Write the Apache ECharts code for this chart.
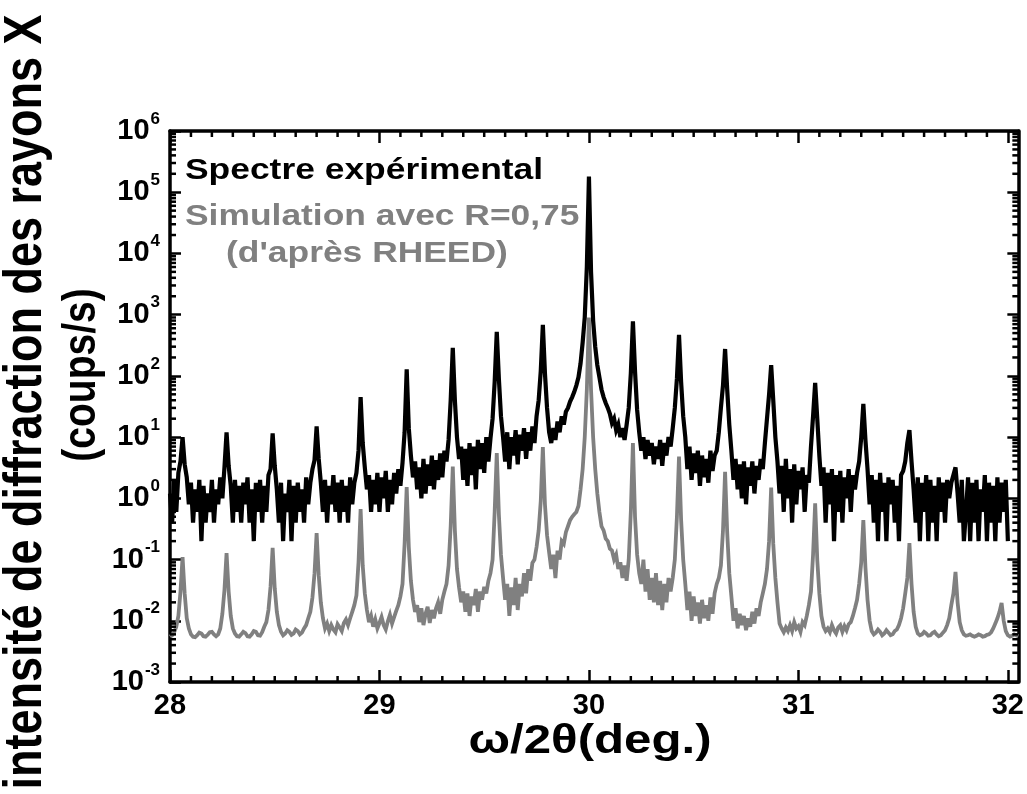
<!DOCTYPE html>
<html>
<head>
<meta charset="utf-8">
<script src="https://cdn.jsdelivr.net/npm/echarts@6/dist/echarts.min.js"></script>
<style>
html,body{margin:0;padding:0;background:#fff;}
#chart{width:1027px;height:794px;}
</style>
</head>
<body>
<div id="chart"></div>
<script>
// ---- scan grid (omega/2theta, deg.) ----
const scanStart = 28.00;
const scanStep = 0.01;

// ---- experimental spectrum (counts/s), one row per 0.1 deg from 28.0 ----
const expCounts = [
  1.2, 0.4, 2.0, 0.6, 2.6, 4.0, 10, 3.6, 2.2, 0.8,
  1.8, 0.4, 1.4, 0.6, 2.0, 0.2, 1.6, 0.4, 1.2, 0.6,
  2.0, 0.4, 1.4, 0.8, 2.2, 1.0, 3.2, 12, 3.4, 1.6,
  0.4, 2.0, 0.6, 1.6, 0.4, 1.8, 0.8, 2.2, 0.4, 1.4,
  0.2, 1.8, 0.6, 2.0, 0.4, 1.6, 0.6, 2.4, 3.0, 11.5,
  3.4, 1.4, 0.4, 1.8, 0.2, 1.2, 0.6, 2.0, 0.2, 1.6,
  0.4, 1.8, 0.6, 1.4, 0.4, 2.2, 0.8, 1.8, 3.0, 4.2,
  15, 4.4, 1.8, 0.6, 2.0, 0.4, 1.6, 0.8, 2.4, 0.6,
  1.8, 0.4, 2.0, 0.6, 1.6, 0.4, 2.2, 0.8, 1.8, 2.6,
  6, 45, 8, 3.2, 1.4, 2.4, 0.6, 2.0, 0.8, 2.6,
  0.6, 2.2, 1.0, 2.8, 0.6, 2.0, 0.8, 2.6, 1.2, 3.0,
  1.6, 3.8, 12, 128, 14, 5.0, 2.2, 4.0, 1.4, 3.2,
  1.0, 4.4, 1.2, 3.6, 1.6, 5.0, 1.4, 4.2, 2.0, 5.4,
  2.2, 6, 4, 9, 40, 287, 40, 10, 4.4, 7,
  2.0, 6.4, 1.6, 8.0, 2.4, 7.0, 1.4, 9.0, 3.0, 8.0,
  2.6, 10, 4.0, 9.6, 20, 80, 525, 90, 22, 10,
  4, 12, 3.0, 10, 5, 13, 3.6, 11, 6, 14,
  4.4, 12, 6, 15, 8, 22, 40, 120, 680, 110,
  30, 12, 8, 14, 9, 18, 12, 22, 16, 26,
  30, 38, 45, 55, 70, 95, 160, 350, 900, 6000,
  180000, 5000, 800, 300, 150, 95, 60, 45, 36, 30,
  24, 17, 20, 13, 16, 10, 14, 9, 16, 30,
  110, 780, 120, 28, 12, 6, 10, 4.4, 9, 5,
  8, 3.6, 7, 4.4, 9, 3.4, 8, 5, 10, 7,
  14, 30, 90, 470, 80, 22, 10, 3.0, 7, 2.0,
  5.4, 2.6, 6, 1.6, 5, 2.2, 4.4, 1.8, 6, 2.8,
  5, 6, 12, 30, 70, 275, 60, 16, 6, 2.0,
  4.4, 1.4, 3.6, 1.0, 4.0, 0.8, 3.2, 1.6, 4.0, 1.2,
  3.4, 2.0, 4.4, 3.0, 8, 20, 50, 150, 40, 10,
  4, 1.2, 3.4, 0.6, 4.4, 1.0, 3.0, 0.4, 3.6, 0.8,
  2.8, 1.4, 3.2, 0.6, 2.4, 1.8, 7, 22, 77, 20,
  5, 1.6, 3.2, 0.4, 2.6, 0.8, 3.0, 0.2, 2.4, 0.6,
  2.8, 0.4, 2.2, 1.0, 3.0, 0.6, 2.4, 1.4, 2.6, 4,
  10, 35, 9, 3.0, 0.8, 2.4, 0.4, 2.0, 0.2, 2.6,
  0.6, 1.8, 0.2, 2.2, 0.8, 2.0, 0.4, 1.6, 0.2, 2.4,
  2.8, 4, 8, 13, 4, 1.4, 0.4, 2.2, 0.2, 1.8,
  0.6, 2.4, 0.2, 2.0, 0.4, 1.6, 0.2, 2.2, 0.6, 1.8,
  0.4, 2.0, 1.0, 1.8, 2.4, 3.2, 1.2, 0.4, 2.0, 0.2,
  0.6, 2.2, 0.2, 1.8, 0.4, 2.0, 0.2, 1.4, 0.6, 2.4,
  0.2, 1.8, 0.4, 1.6, 0.2, 2.2, 0.4, 1.8, 0.6, 2.0,
  0.2
];

// ---- simulation with R = 0,75 (counts/s), one row per 0.1 deg from 28.0 ----
const simCounts = [
  0.0055, 0.0058, 0.0065, 0.008, 0.012, 0.03, 0.11, 0.028, 0.011, 0.0075,
  0.006, 0.0055, 0.0054, 0.0058, 0.0064, 0.0062, 0.0056, 0.0055, 0.0059, 0.0065,
  0.0066, 0.006, 0.0056, 0.006, 0.0075, 0.013, 0.032, 0.128, 0.03, 0.012,
  0.0075, 0.0062, 0.0056, 0.0055, 0.006, 0.0066, 0.0063, 0.0056, 0.0055, 0.006,
  0.0068, 0.0066, 0.0058, 0.0057, 0.0065, 0.008, 0.0095, 0.015, 0.036, 0.155,
  0.034, 0.014, 0.0085, 0.0066, 0.0058, 0.0062, 0.007, 0.0066, 0.0059, 0.0062,
  0.0072, 0.0068, 0.006, 0.0064, 0.0075, 0.0085, 0.011, 0.014, 0.024, 0.06,
  0.27, 0.055, 0.02, 0.011, 0.0075, 0.009, 0.0068, 0.0085, 0.0072, 0.0065,
  0.0088, 0.0078, 0.0068, 0.0092, 0.0105, 0.0085, 0.011, 0.014, 0.018, 0.026,
  0.09, 0.67, 0.08, 0.028, 0.015, 0.0095, 0.012, 0.008, 0.0105, 0.0075,
  0.0092, 0.0115, 0.0085, 0.0072, 0.0098, 0.0125, 0.009, 0.0115, 0.0145, 0.018,
  0.025, 0.04, 0.18, 1.53, 0.16, 0.045, 0.022, 0.014, 0.018, 0.0095,
  0.016, 0.0085, 0.013, 0.017, 0.0092, 0.015, 0.011, 0.016, 0.02, 0.013,
  0.022, 0.03, 0.04, 0.08, 0.35, 3.3, 0.3, 0.07, 0.035, 0.02,
  0.03, 0.014, 0.028, 0.012, 0.025, 0.018, 0.033, 0.014, 0.03, 0.022,
  0.036, 0.028, 0.045, 0.06, 0.1, 0.6, 5.5, 0.55, 0.12, 0.05,
  0.022, 0.04, 0.012, 0.035, 0.018, 0.05, 0.015, 0.04, 0.025, 0.06,
  0.028, 0.07, 0.045, 0.088, 0.1, 0.16, 0.3, 0.9, 6.9, 0.8,
  0.25, 0.13, 0.07, 0.12, 0.05, 0.14, 0.1, 0.2, 0.18, 0.28,
  0.35, 0.44, 0.5, 0.55, 0.6, 0.75, 1.4, 3, 10, 60,
  900, 60, 10, 3, 1.2, 0.6, 0.35, 0.3, 0.22, 0.2,
  0.15, 0.14, 0.1, 0.12, 0.07, 0.09, 0.05, 0.08, 0.045, 0.1,
  0.6, 8, 0.5, 0.12, 0.06, 0.04, 0.1, 0.03, 0.07, 0.022,
  0.05, 0.02, 0.06, 0.018, 0.045, 0.015, 0.04, 0.02, 0.05, 0.03,
  0.05, 0.1, 0.5, 4.8, 0.45, 0.1, 0.04, 0.015, 0.03, 0.01,
  0.025, 0.012, 0.02, 0.009, 0.022, 0.011, 0.018, 0.01, 0.024, 0.013,
  0.028, 0.04, 0.05, 0.08, 0.3, 2.7, 0.28, 0.06, 0.025, 0.01,
  0.016, 0.0075, 0.013, 0.0085, 0.012, 0.007, 0.011, 0.008, 0.014, 0.009,
  0.016, 0.012, 0.02, 0.028, 0.04, 0.07, 0.2, 1.5, 0.18, 0.05,
  0.02, 0.009, 0.0075, 0.0065, 0.0078, 0.0068, 0.0085, 0.0068, 0.0095, 0.0075,
  0.0082, 0.0066, 0.0095, 0.0085, 0.012, 0.018, 0.03, 0.12, 0.83, 0.1,
  0.028, 0.012, 0.008, 0.0068, 0.0075, 0.0065, 0.0085, 0.007, 0.0062, 0.0078,
  0.0085, 0.0066, 0.0082, 0.007, 0.0088, 0.0095, 0.012, 0.016, 0.022, 0.04,
  0.09, 0.44, 0.075, 0.022, 0.01, 0.0068, 0.006, 0.0064, 0.0072, 0.0066,
  0.0058, 0.0062, 0.007, 0.0064, 0.0058, 0.006, 0.0068, 0.0072, 0.0085, 0.011,
  0.016, 0.028, 0.05, 0.185, 0.04, 0.014, 0.008, 0.0062, 0.0058, 0.006,
  0.0066, 0.0062, 0.0057, 0.0058, 0.0063, 0.0066, 0.006, 0.0056, 0.0058, 0.0064,
  0.007, 0.0085, 0.011, 0.018, 0.028, 0.063, 0.02, 0.0095, 0.007, 0.006,
  0.0057, 0.0058, 0.006, 0.0057, 0.0055, 0.0057, 0.006, 0.0058, 0.0055, 0.0056,
  0.0059, 0.006, 0.0065, 0.0075, 0.009, 0.011, 0.014, 0.0195, 0.01, 0.0068,
  0.0058, 0.0055, 0.0057, 0.006, 0.0058, 0.0056
];

// ---- axes ----
const xMin = 28, xMax = 32.05;
const xMajorTicks = [28, 29, 30, 31, 32];
const xMinorSteps = [1, 2, 3, 4, 5, 6, 7, 8, 9];          // tenths of a degree
const yMin = 1e-3, yMax = 1e6;
const yDecades = [-3, -2, -1, 0, 1, 2, 3, 4, 5];
const yMinorMultipliers = [2, 3, 4, 5, 6, 7, 8, 9];

const legendTexts = ['Spectre expérimental', 'Simulation avec R=0,75', "(d'après RHEED)"];
const xTitle = 'ω/2θ(deg.)';
const yTitle1 = 'intensité de diffraction des rayons X';
const yTitle2 = '(coups/s)';

const FONT = '"Liberation Sans", Arial, Helvetica, sans-serif';
const GRAY = '#808080';

const round2 = v => Math.round(v * 100) / 100;
const expData = expCounts.map((v, i) => [round2(scanStart + i * scanStep), v]);
const simData = simCounts.map((v, i) => [round2(scanStart + i * scanStep), v]);

const xMinorTicks = [];
xMajorTicks.slice(0, -1).forEach(n => xMinorSteps.forEach(k => xMinorTicks.push(round2(n + k / 10))));
const yMinorTicks = [];
yDecades.forEach(e => yMinorMultipliers.forEach(m => yMinorTicks.push(m * Math.pow(10, e))));

const chart = echarts.init(document.getElementById('chart'), null, {renderer: 'canvas'});

const axisLineStyle = {color: '#000', width: 3.5};
const tickStyle = {color: '#000', width: 2.5};

function renderXMinor(params, api) {
  const cs = params.coordSys;
  const px = api.coord([api.value(0), yMin])[0];
  const bottom = cs.y + cs.height, top = cs.y;
  return {type: 'group', children: [
    {type: 'line', shape: {x1: px, y1: bottom, x2: px, y2: bottom - 6}, style: {stroke: '#000', lineWidth: 2.5}},
    {type: 'line', shape: {x1: px, y1: top, x2: px, y2: top + 6}, style: {stroke: '#000', lineWidth: 2.5}}
  ]};
}
function renderYMinor(params, api) {
  const cs = params.coordSys;
  const py = api.coord([xMin, api.value(1)])[1];
  const left = cs.x, right = cs.x + cs.width;
  return {type: 'group', children: [
    {type: 'line', shape: {x1: left, y1: py, x2: left + 6, y2: py}, style: {stroke: '#000', lineWidth: 2.5}},
    {type: 'line', shape: {x1: right, y1: py, x2: right - 6, y2: py}, style: {stroke: '#000', lineWidth: 2.5}}
  ]};
}

const option = {
  animation: false,
  backgroundColor: '#fff',
  grid: {left: 170, right: 7, top: 131, bottom: 112, containLabel: false},
  xAxis: [
    {
      type: 'value', position: 'bottom', min: xMin, max: xMax, interval: 1,
      axisLine: {show: true, lineStyle: axisLineStyle},
      axisTick: {show: true, inside: true, length: 12, lineStyle: tickStyle, customValues: xMajorTicks},
      axisLabel: {
        show: true, margin: 9, color: '#000', fontFamily: FONT, fontWeight: 'bold', fontSize: 29,
        customValues: xMajorTicks,
        formatter: v => (Math.abs(v - Math.round(v)) < 1e-6 ? String(Math.round(v)) : '')
      },
      splitLine: {show: false}
    },
    {
      type: 'value', position: 'top', min: xMin, max: xMax, interval: 1,
      axisLine: {show: true, lineStyle: axisLineStyle},
      axisTick: {show: true, inside: true, length: 12, lineStyle: tickStyle, customValues: xMajorTicks},
      axisLabel: {show: false},
      splitLine: {show: false}
    }
  ],
  yAxis: [
    {
      type: 'log', logBase: 10, position: 'left', min: yMin, max: yMax, interval: 1,
      axisLine: {show: true, lineStyle: axisLineStyle},
      axisTick: {show: true, inside: true, length: 11, lineStyle: tickStyle},
      axisLabel: {
        show: true, margin: 10, color: '#000',
        formatter: v => '{b|10}{s|' + Math.round(Math.log10(v)) + '}',
        rich: {
          b: {fontFamily: FONT, fontWeight: 'bold', fontSize: 29, color: '#000'},
          s: {fontFamily: FONT, fontWeight: 'bold', fontSize: 17, color: '#000', padding: [0, 0, 24, 1]}
        }
      },
      splitLine: {show: false}
    },
    {
      type: 'log', logBase: 10, position: 'right', min: yMin, max: yMax, interval: 1,
      axisLine: {show: true, lineStyle: axisLineStyle},
      axisTick: {show: true, inside: true, length: 11, lineStyle: tickStyle},
      axisLabel: {show: false},
      splitLine: {show: false}
    }
  ],
  series: [
    {
      name: legendTexts[0], type: 'line', xAxisIndex: 0, yAxisIndex: 0,
      data: expData, showSymbol: false, symbol: 'none', sampling: null,
      lineStyle: {color: '#000', width: 4.2, join: 'miter', miterLimit: 4}, itemStyle: {color: '#000'}, z: 2
    },
    {
      name: legendTexts[1], type: 'line', xAxisIndex: 0, yAxisIndex: 0,
      data: simData, showSymbol: false, symbol: 'none', sampling: null,
      lineStyle: {color: GRAY, width: 3.8, join: 'miter', miterLimit: 4}, itemStyle: {color: GRAY}, z: 3
    },
    {
      type: 'custom', xAxisIndex: 0, yAxisIndex: 0, silent: true, z: 5,
      data: xMinorTicks.map(v => [v, yMin]), renderItem: renderXMinor, clip: false
    },
    {
      type: 'custom', xAxisIndex: 0, yAxisIndex: 0, silent: true, z: 5,
      data: yMinorTicks.map(v => [xMin, v]), renderItem: renderYMinor, clip: false
    }
  ],
  graphic: [
    {type: 'text', x: 185, y: 171, scaleX: 1.18, z: 10,
     style: {text: legendTexts[0], font: 'bold 30px ' + FONT, fill: '#000', textAlign: 'left', textVerticalAlign: 'middle', align: 'left', verticalAlign: 'middle'}},
    {type: 'text', x: 185, y: 217, scaleX: 1.18, z: 10,
     style: {text: legendTexts[1], font: 'bold 30px ' + FONT, fill: GRAY, textAlign: 'left', textVerticalAlign: 'middle', align: 'left', verticalAlign: 'middle'}},
    {type: 'text', x: 226, y: 254, scaleX: 1.18, z: 10,
     style: {text: legendTexts[2], font: 'bold 30px ' + FONT, fill: GRAY, textAlign: 'left', textVerticalAlign: 'middle', align: 'left', verticalAlign: 'middle'}},
    {type: 'text', x: 590, y: 742, scaleX: 1.2, z: 10,
     style: {text: xTitle, font: 'bold 41px ' + FONT, fill: '#000', textAlign: 'center', textVerticalAlign: 'middle', align: 'center', verticalAlign: 'middle'}},
    {type: 'text', x: 26, y: 402, rotation: Math.PI / 2, scaleY: 1.2, z: 10,
     style: {text: yTitle1, font: 'bold 45px ' + FONT, fill: '#000', textAlign: 'center', textVerticalAlign: 'middle', align: 'center', verticalAlign: 'middle'}},
    {type: 'text', x: 82, y: 375, rotation: Math.PI / 2, scaleY: 1.2, z: 10,
     style: {text: yTitle2, font: 'bold 39px ' + FONT, fill: '#000', textAlign: 'center', textVerticalAlign: 'middle', align: 'center', verticalAlign: 'middle'}}
  ]
};

chart.setOption(option);
</script>
</body>
</html>
